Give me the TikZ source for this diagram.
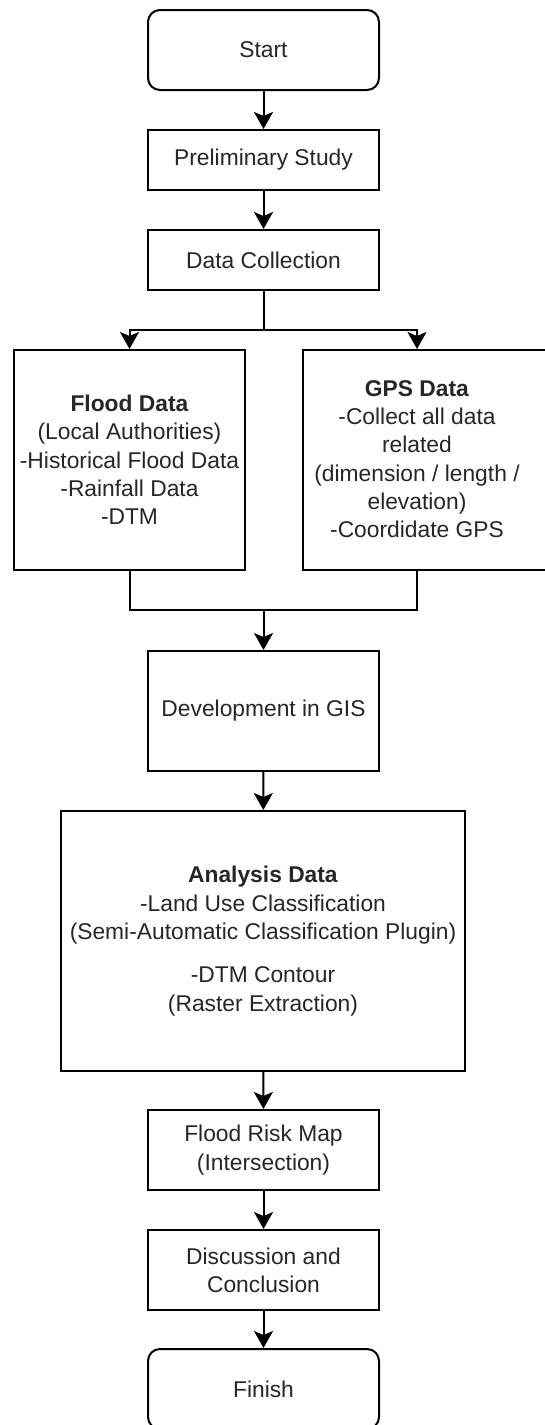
\documentclass[tikz,border=0pt]{standalone}
\usepackage{fontspec}
\setmainfont{Liberation Sans}
\usetikzlibrary{arrows.meta}

\begin{document}
\begin{tikzpicture}[x=1pt, y=-1pt,
  every node/.style={font=\fontsize{22.8}{28.3}\selectfont, text=black!85, align=center},
  stepbox/.style={draw=black, line width=2pt, fill=white, minimum width=231pt, inner sep=0pt},
  endbox/.style={stepbox, rounded corners=12pt},
  conn/.style={draw=black, line width=2pt},
  arr/.style={conn, -{Stealth[length=17pt, width=19pt, inset=4pt]}}
]
\useasboundingbox (0,0) rectangle (545,1425);
\fill[white] (0,0) rectangle (545,1425);

% main column
\node[endbox, minimum height=80pt] (start) at (263.5,50) {Start};
\node[stepbox, minimum height=60pt] (prelim) at (263.5,160) {Preliminary Study};
\node[stepbox, minimum height=60pt] (collect) at (263.5,260) {Data Collection};

% the two data sources
\node[stepbox, minimum height=220pt] (flood) at (129.5,460)
  {\textbf{Flood Data}\\(Local Authorities)\\-Historical Flood Data\\-Rainfall Data\\-DTM};
\node[stepbox, minimum height=220pt, minimum width=260pt, anchor=west] (gps) at (302,460) {};
\node (gpstext) at (417,459)
  {\textbf{GPS Data}\\-Collect all data\\related\\(dimension / length /\\elevation)\\-Coordidate GPS};

\node[stepbox, minimum height=120pt] (dev) at (263.5,711) {Development in GIS};
\node[stepbox, minimum height=260pt, minimum width=404pt] (analysis) at (263,941)
  {\textbf{Analysis Data}\\-Land Use Classification\\(Semi-Automatic Classification Plugin)\\[15pt]-DTM Contour\\(Raster Extraction)};
\node[stepbox, minimum height=80pt] (risk) at (263.5,1150) {Flood Risk Map\\(Intersection)};
\node[stepbox, minimum height=80pt] (disc) at (263.5,1270) {Discussion and\\Conclusion};
\node[endbox, minimum height=80pt] (finish) at (263.5,1389) {Finish};

% connectors
\coordinate (split) at (263.5,330);
\coordinate (merge) at (263.5,610);

\draw[arr] (start) -- (prelim);
\draw[arr] (prelim) -- (collect);
\draw[conn] (collect) -- (split);
\draw[arr] (split) -| (flood.north);
\draw[arr] (split) -| (gpstext |- gps.north);
\draw[conn] (flood.south) |- (merge);
\draw[conn] (merge) -| (gpstext |- gps.south);
\draw[arr] (merge) -- (dev);
\draw[arr] (dev) -- (analysis);
\draw[arr] (analysis) -- (risk);
\draw[arr] (risk) -- (disc);
\draw[arr] (disc) -- (finish);
\end{tikzpicture}
\end{document}
